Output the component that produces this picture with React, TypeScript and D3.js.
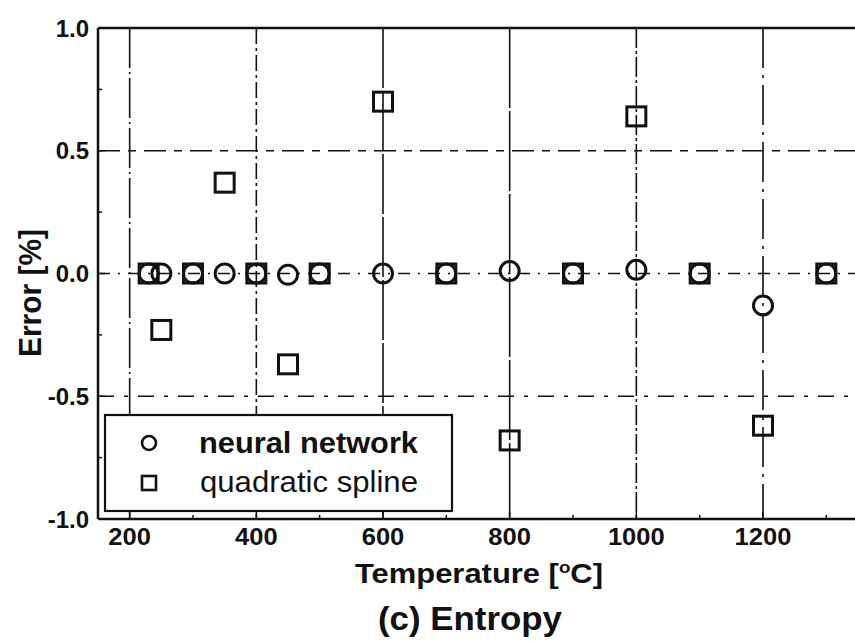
import React from "react";
import * as d3 from "d3";

// ---- data ----
const temperatures = [230, 250, 300, 350, 400, 450, 500, 600, 700, 800, 900, 1000, 1100, 1200, 1300];
const neuralNetwork = [0, 0, 0, 0, 0, -0.005, 0, 0, 0, 0.01, 0, 0.015, 0, -0.13, 0];
const quadraticSpline = [0, -0.23, 0, 0.37, 0, -0.37, 0, 0.7, 0, -0.68, 0, 0.64, 0, -0.62, 0];
const xTicks = [200, 400, 600, 800, 1000, 1200];
const xMinorTicks = [300, 500, 700, 900, 1100, 1300];
const yTicks = [-1, -0.5, 0, 0.5, 1];
const yTickLabels = ["-1.0", "-0.5", "0.0", "0.5", "1.0"];
const yMinorTicks = [-0.75, -0.25, 0.25, 0.75];
const hGrid = [0.5, 0, -0.5];
const legendLabels = ["neural network", "quadratic spline"];

// ---- styles ----
const vDash = ["40 4 2 4", "16 4 3 4", "60 3", "80 3", "20 3 3 3", "40 7 3 7"];
const hDash = ["22 8 8 8", "12 8 2 8", "16 10 4 10"];
const FONT = "'Liberation Sans', Arial, Helvetica, sans-serif";

export default function App() {
  const W = 855, H = 641;
  const left = 98, top = 28, right = 858, bottom = 519;
  const x = d3.scaleLinear().domain([150, 1350]).range([left, right]);
  const y = d3.scaleLinear().domain([-1, 1]).range([bottom, top]);
  const ink = "#111";
  const ms = 22; // marker size

  return (
    <svg
      width={W}
      height={H}
      style={{ position: "absolute", left: 0, top: 0, background: "#fff" }}
      fontFamily={FONT}
    >
      <rect x={0} y={0} width={W} height={H} fill="#fff" />
      {/* grid */}
      {xTicks.map((t, i) => (
        <line key={"vg" + t} x1={x(t)} x2={x(t)} y1={top} y2={bottom} stroke={ink} strokeWidth={1.6} strokeDasharray={vDash[i]} />
      ))}
      {hGrid.map((v, i) => (
        <line key={"hg" + v} x1={left} x2={right} y1={y(v)} y2={y(v)} stroke={ink} strokeWidth={1.4} strokeDasharray={hDash[i]} />
      ))}
      {/* frame */}
      <line x1={left} x2={right} y1={top} y2={top} stroke={ink} strokeWidth={2.5} />
      <line x1={left} x2={right} y1={bottom} y2={bottom} stroke={ink} strokeWidth={2.5} />
      <line x1={left} x2={left} y1={top} y2={bottom} stroke={ink} strokeWidth={2.5} />
      <line x1={right} x2={right} y1={top} y2={bottom} stroke={ink} strokeWidth={2.5} />
      {/* ticks */}
      {yTicks.map((t) => (
        <line key={"yt" + t} x1={left} x2={left + 7} y1={y(t)} y2={y(t)} stroke={ink} strokeWidth={1.5} />
      ))}
      {yMinorTicks.map((t) => (
        <line key={"ym" + t} x1={left} x2={left + 4} y1={y(t)} y2={y(t)} stroke={ink} strokeWidth={1.5} />
      ))}
      {xTicks.map((t) => (
        <line key={"xt" + t} x1={x(t)} x2={x(t)} y1={bottom} y2={bottom - 7} stroke={ink} strokeWidth={1.5} />
      ))}
      {xMinorTicks.map((t) => (
        <line key={"xm" + t} x1={x(t)} x2={x(t)} y1={bottom} y2={bottom - 4} stroke={ink} strokeWidth={1.5} />
      ))}
      {/* tick labels */}
      {yTicks.map((t, i) => (
        <text key={"yl" + t} x={left - 9} y={y(t) + 8.5} textAnchor="end" fontSize={24} fontWeight="bold" fill={ink}>
          {yTickLabels[i]}
        </text>
      ))}
      {xTicks.map((t) => (
        <text
          key={"xl" + t}
          x={x(t)}
          y={545}
          textAnchor="middle"
          fontSize={24}
          fontWeight="bold"
          fill={ink}
          textLength={String(t).length * 14.2}
          lengthAdjust="spacingAndGlyphs"
        >
          {t}
        </text>
      ))}
      {/* markers */}
      {temperatures.map((t, i) => (
        <circle key={"nn" + t} cx={x(t)} cy={y(neuralNetwork[i])} r={ms / 2 - 1.5} fill="none" stroke={ink} strokeWidth={3} />
      ))}
      {temperatures.map((t, i) => (
        <rect key={"qs" + t} x={x(t) - ms / 2 + 1.5} y={y(quadraticSpline[i]) - ms / 2 + 1.5} width={ms - 3} height={ms - 3} fill="none" stroke={ink} strokeWidth={3} />
      ))}
      {/* legend */}
      <rect x={105} y={415} width={347} height={96} fill="#fff" stroke={ink} strokeWidth={2.2} />
      <circle cx={149} cy={443} r={7} fill="none" stroke={ink} strokeWidth={2.6} />
      <rect x={142} y={476} width={14} height={14} fill="none" stroke={ink} strokeWidth={2.6} />
      <text x={199} y={453} fontSize={29} fontWeight="bold" fill={ink} textLength={219} lengthAdjust="spacingAndGlyphs">
        {legendLabels[0]}
      </text>
      <text x={200} y={492} fontSize={29} fill={ink} textLength={218} lengthAdjust="spacingAndGlyphs">
        {legendLabels[1]}
      </text>
      {/* axis titles */}
      <text x={355} y={583} fontSize={28} fontWeight="bold" fill={ink} textLength={248} lengthAdjust="spacingAndGlyphs">
        Temperature [<tspan dy={-10} fontSize={17}>o</tspan><tspan dy={10}>C]</tspan>
      </text>
      <text x={378} y={630} fontSize={34} fontWeight="bold" fill={ink} textLength={184} lengthAdjust="spacingAndGlyphs">
        (c) Entropy
      </text>
      <text
        transform={`translate(41, ${293}) rotate(-90)`}
        textAnchor="middle"
        fontSize={31}
        fontWeight="bold"
        fill={ink}
        textLength={128}
        lengthAdjust="spacingAndGlyphs"
      >
        Error [%]
      </text>
    </svg>
  );
}
